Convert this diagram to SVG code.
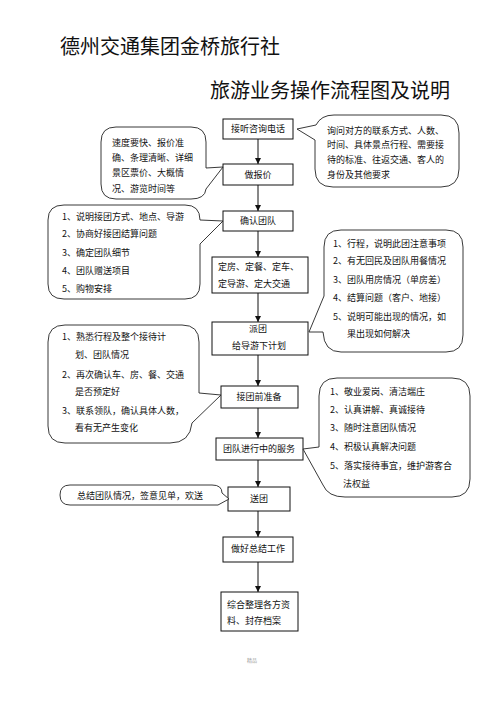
<svg xmlns="http://www.w3.org/2000/svg" width="496" height="702" viewBox="0 0 496 702">
<style>
text{font-family:"Noto Sans CJK SC","Noto Sans",sans-serif;fill:#111}
.t{font-size:20px}
.b{font-size:9px;text-anchor:middle}
.c{font-size:9px}
.box{fill:#fff;stroke:#111;stroke-width:1}
.bub{fill:#fff;stroke:#222;stroke-width:0.9}
.ln{stroke:#111;stroke-width:1;fill:none}
</style>
<defs>
<marker id="ah" viewBox="0 0 10 10" refX="10" refY="5" markerWidth="6" markerHeight="6" orient="auto" markerUnits="userSpaceOnUse"><path d="M0,0 L10,5 L0,10 Z" fill="#111"/></marker>
</defs>
<rect width="496" height="702" fill="#fff"/>
<text class="t" x="60" y="54">德州交通集团金桥旅行社</text>
<text class="t" x="210" y="98">旅游业务操作流程图及说明</text>

<g id="connectors">
<line class="ln" x1="258" y1="139" x2="258" y2="164" marker-end="url(#ah)"/>
<line class="ln" x1="258" y1="185" x2="258" y2="211" marker-end="url(#ah)"/>
<line class="ln" x1="258" y1="231" x2="258" y2="257" marker-end="url(#ah)"/>
<line class="ln" x1="258" y1="293" x2="258" y2="322" marker-end="url(#ah)"/>
<line class="ln" x1="258" y1="355" x2="258" y2="386" marker-end="url(#ah)"/>
<line class="ln" x1="258" y1="408" x2="258" y2="438" marker-end="url(#ah)"/>
<line class="ln" x1="258" y1="460" x2="258" y2="487" marker-end="url(#ah)"/>
<line class="ln" x1="258" y1="511" x2="258" y2="537" marker-end="url(#ah)"/>
<line class="ln" x1="258" y1="562" x2="258" y2="592" marker-end="url(#ah)"/>
</g>

<g id="n1"><rect class="box" x="223" y="119" width="70" height="20"/><text class="b" x="258" y="132">接听咨询电话</text></g>
<g id="n2"><rect class="box" x="223" y="164" width="70" height="21"/><text class="b" x="258" y="178">做报价</text></g>
<g id="n3"><rect class="box" x="223" y="211" width="70" height="20"/><text class="b" x="258" y="224">确认团队</text></g>
<g id="n4"><rect class="box" x="212" y="257" width="96" height="36"/><text class="c" x="218" y="270">定房、定餐、定车、</text><text class="c" x="218" y="287">定导游、定大交通</text></g>
<g id="n5"><rect class="box" x="212" y="322" width="96" height="33"/><text class="b" x="258" y="332">派团</text><text class="b" x="259" y="349">给导游下计划</text></g>
<g id="n6"><rect class="box" x="221" y="386" width="77" height="22"/><text class="b" x="259" y="400">接团前准备</text></g>
<g id="n7"><rect class="box" x="216" y="438" width="87" height="22"/><text class="b" x="259" y="452">团队进行中的服务</text></g>
<g id="n8"><rect class="box" x="228" y="487" width="62" height="24"/><text class="b" x="259" y="502">送团</text></g>
<g id="n9"><rect class="box" x="223" y="537" width="70" height="25"/><text class="b" x="258" y="552">做好总结工作</text></g>
<g id="n10"><rect class="box" x="221" y="592" width="77" height="39"/><text class="c" x="227" y="608">综合整理各方资</text><text class="c" x="227" y="624">料、封存档案</text></g>

<g id="callout-a">
<path class="bub" d="M116,127 H191 Q206,127 206,142 V168 L223,167 L206,189 Q205,199 191,199 H116 Q101,199 101,184 V142 Q101,127 116,127 Z"/>
<text class="c" x="112" y="146">速度要快、报价准</text>
<text class="c" x="112" y="161">确、条理清晰、详细</text>
<text class="c" x="112" y="176">景区票价、大概情</text>
<text class="c" x="112" y="192">况、游览时间等</text>
</g>
<g id="callout-b">
<path class="bub" d="M334,115 H441 Q459,115 459,133 V169 Q459,187 441,187 H333 Q315,187 315,169 V140 L297,129 L316,125 Q321,115 334,115 Z"/>
<text class="c" x="327" y="134">询问对方的联系方式、人数、</text>
<text class="c" x="327" y="148">时间、具体景点行程、需要接</text>
<text class="c" x="327" y="163">待的标准、往返交通、客人的</text>
<text class="c" x="327" y="178">身份及其他要求</text>
</g>
<g id="callout-c">
<path class="bub" d="M64,205 H185 Q200,205 200,220 L223,221 L200,244 V284 Q200,299 185,299 H64 Q48,299 48,284 V220 Q48,205 64,205 Z"/>
<text class="c" x="62" y="220">1、说明接团方式、地点、导游</text>
<text class="c" x="62" y="237">2、协商好接团结算问题</text>
<text class="c" x="62" y="256">3、确定团队细节</text>
<text class="c" x="62" y="274">4、团队赠送项目</text>
<text class="c" x="62" y="292">5、购物安排</text>
</g>
<g id="callout-d">
<path class="bub" d="M341,230 H446 Q463,230 463,247 V335 Q463,352 446,352 H341 Q324,352 323,332 L309,332 L324,296 V247 Q324,230 341,230 Z"/>
<text class="c" x="333" y="247">1、行程，说明此团注意事项</text>
<text class="c" x="333" y="264">2、有无回民及团队用餐情况</text>
<text class="c" x="333" y="283">3、团队用房情况（单房差）</text>
<text class="c" x="333" y="301">4、结算问题（客户、地接）</text>
<text class="c" x="333" y="320">5、说明可能出现的情况，如</text>
<text class="c" x="347" y="337">果出现如何解决</text>
</g>
<g id="callout-e">
<path class="bub" d="M65,325 H182 Q199,325 199,342 V393 L221,395 L192,423 Q190,443 170,443 H65 Q48,443 48,426 V342 Q48,325 65,325 Z"/>
<text class="c" x="62" y="340">1、熟悉行程及整个接待计</text>
<text class="c" x="75" y="358">划、团队情况</text>
<text class="c" x="62" y="378">2、再次确认车、房、餐、交通</text>
<text class="c" x="75" y="395">是否预定好</text>
<text class="c" x="62" y="414">3、联系领队，确认具体人数，</text>
<text class="c" x="75" y="431">看有无产生变化</text>
</g>
<g id="callout-f">
<path class="bub" d="M337,378 H452 Q470,378 470,396 V479 Q470,497 452,497 H345 Q328,497 323,485 L303,449 L319,447 V396 Q319,378 337,378 Z"/>
<text class="c" x="330" y="395">1、敬业爱岗、清洁端庄</text>
<text class="c" x="330" y="413">2、认真讲解、真诚接待</text>
<text class="c" x="330" y="431">3、随时注意团队情况</text>
<text class="c" x="330" y="450">4、积极认真解决问题</text>
<text class="c" x="330" y="469">5、落实接待事宜，维护游客合</text>
<text class="c" x="343" y="487">法权益</text>
</g>
<g id="callout-g">
<path class="bub" d="M70,485 H212 Q222,485 222,493 L229,499 L218,505 H70 Q60,505 60,495 Q60,485 70,485 Z"/>
<text class="c" x="77" y="499">总结团队情况，签意见单，欢送</text>
</g>
<text x="247" y="662" style="font-size:5px;fill:#999">精品</text>
</svg>
